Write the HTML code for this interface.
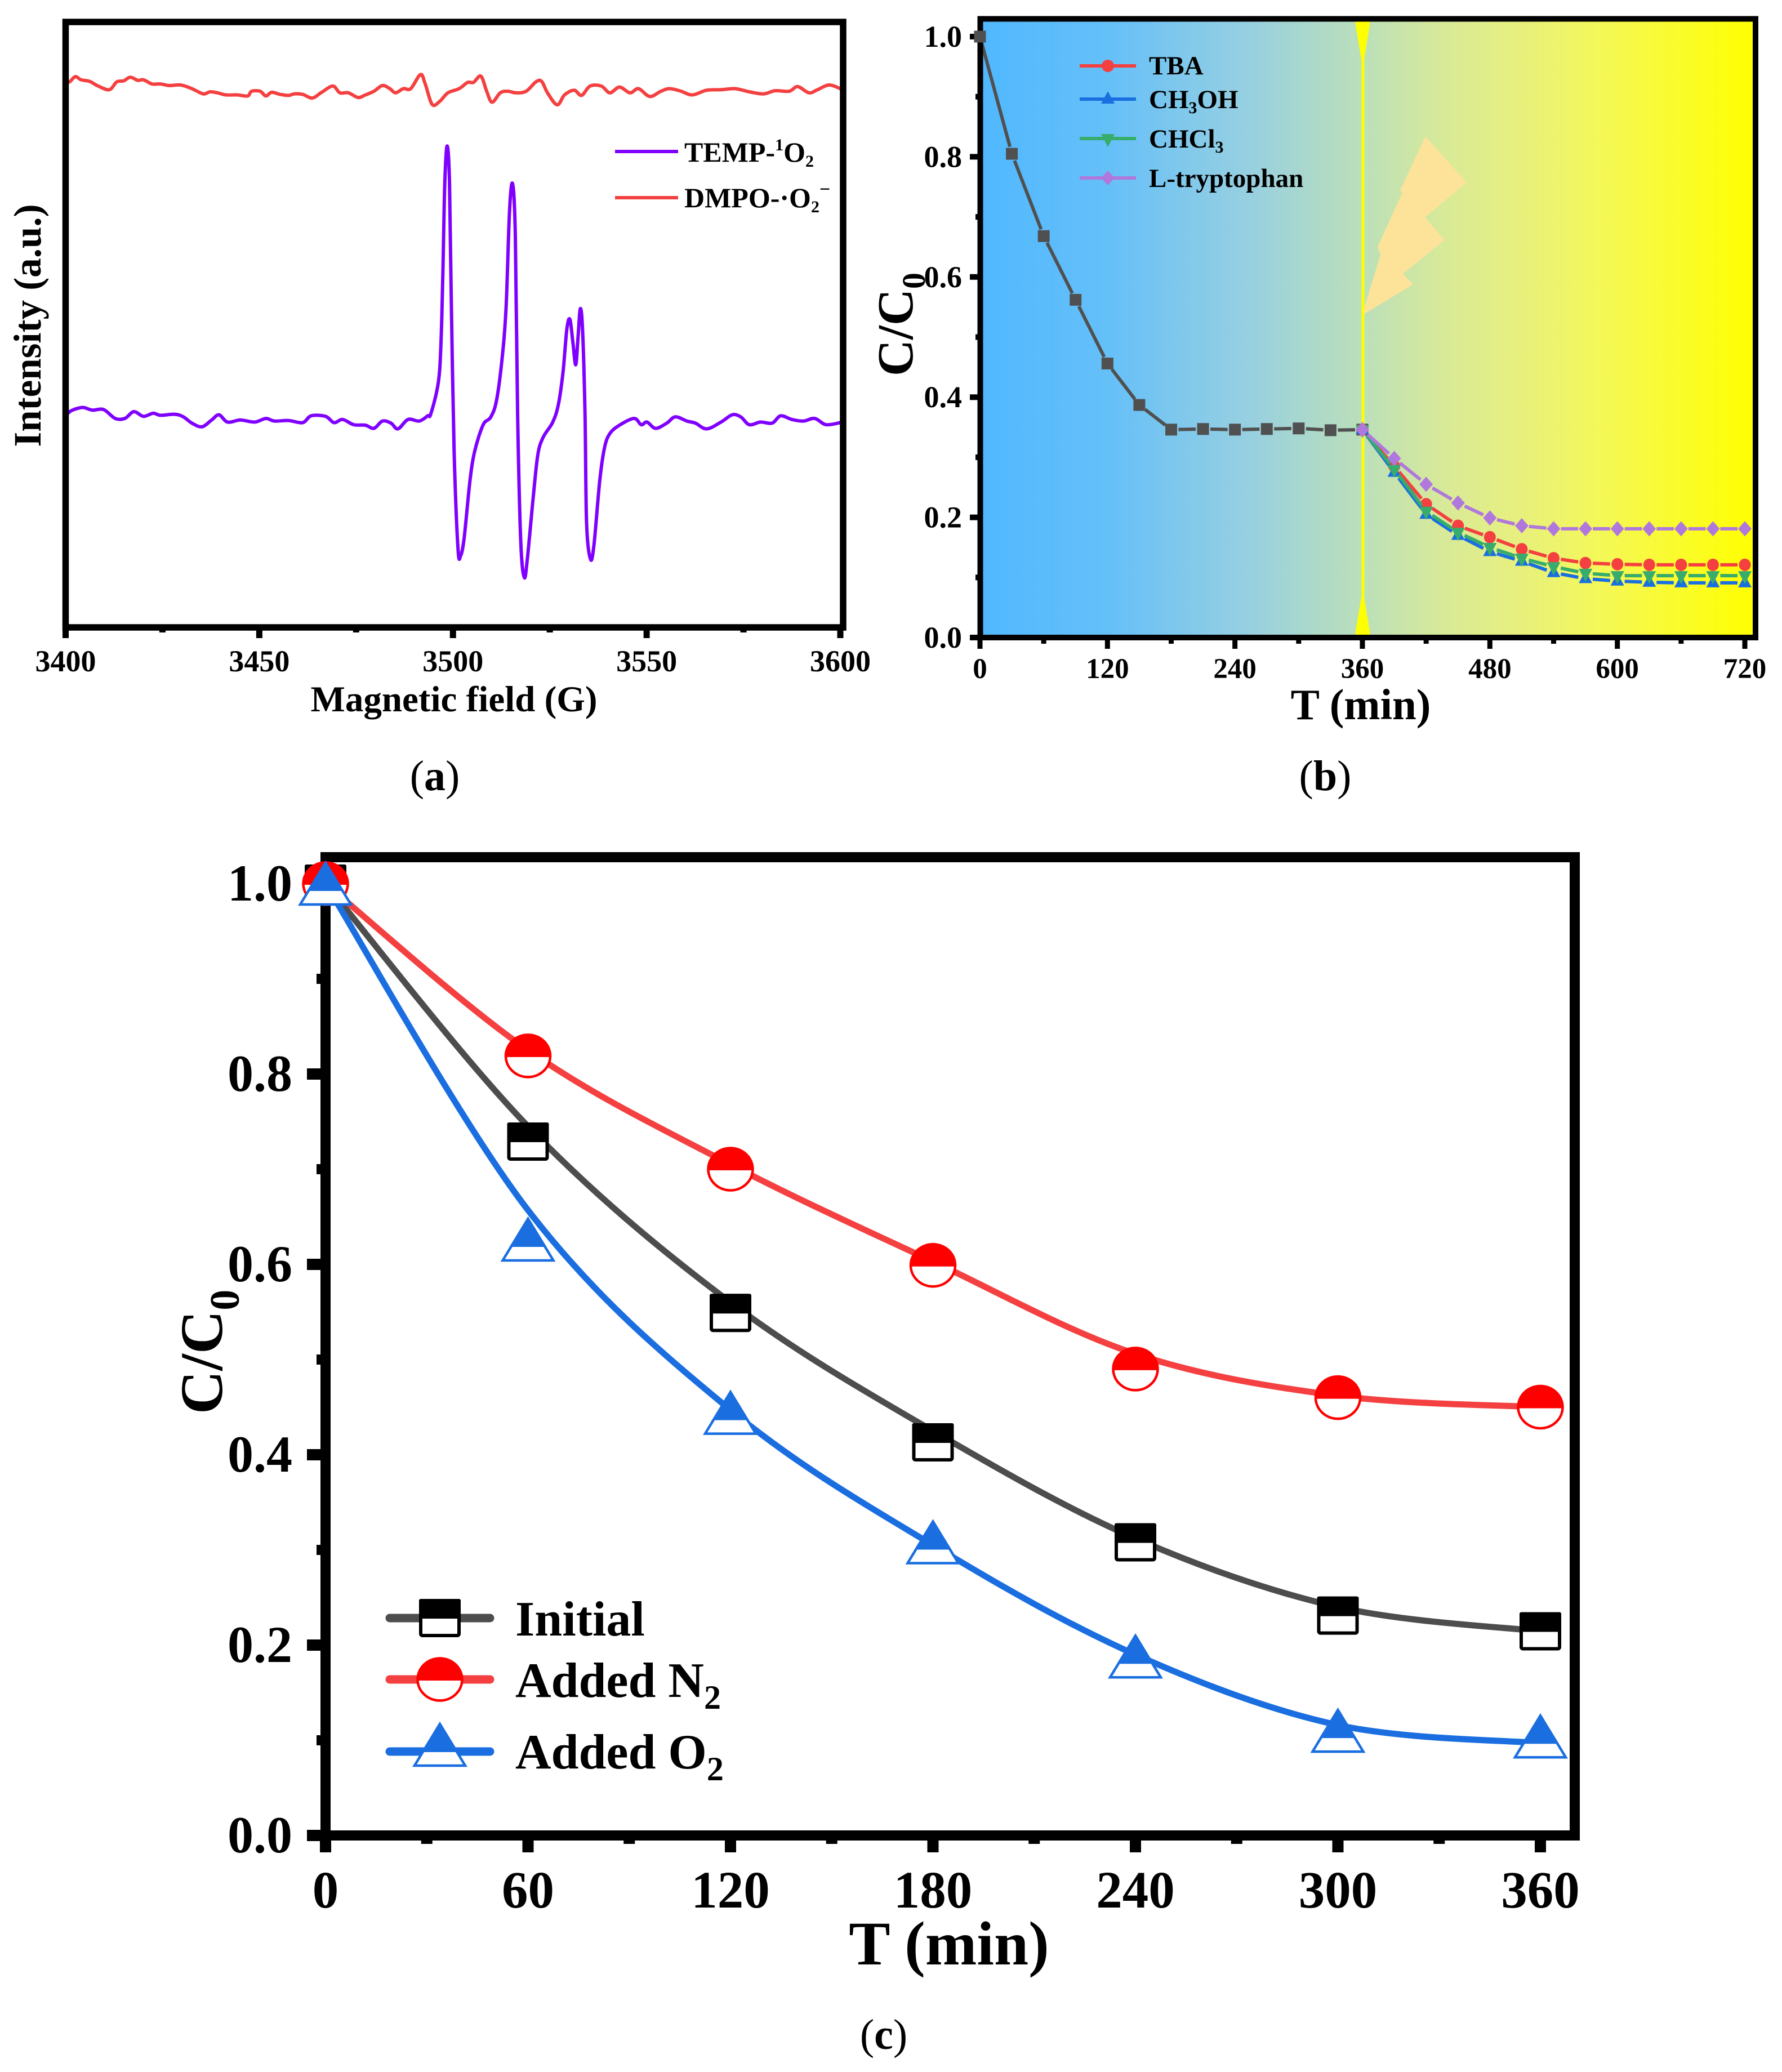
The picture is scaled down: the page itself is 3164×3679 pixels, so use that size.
<!DOCTYPE html>
<html lang="en">
<head>
<meta charset="utf-8">
<title>EPR spectra and C/C0 kinetics panels</title>
<style>
html,body{margin:0;padding:0;background:#fff;}
svg{display:block;}
text{font-family:"Liberation Serif",serif;font-weight:bold;fill:#000;}
.cap{font-weight:normal;font-size:76px;}
.cap tspan.b{font-weight:bold;}
</style>
</head>
<body>
<svg id="fig" xmlns="http://www.w3.org/2000/svg" width="3164" height="3679" viewBox="0 0 3164 3679">
<defs>
<linearGradient id="bgGrad" gradientUnits="userSpaceOnUse" x1="1740" y1="0" x2="3116" y2="0">
<stop offset="0" stop-color="#50b8ff"/>
<stop offset="0.17" stop-color="#66c0f8"/>
<stop offset="0.35" stop-color="#98d0e0"/>
<stop offset="0.5" stop-color="#bde0b8"/>
<stop offset="0.6" stop-color="#d8ea98"/>
<stop offset="0.7" stop-color="#e8f07c"/>
<stop offset="0.8" stop-color="#f4f858"/>
<stop offset="1" stop-color="#ffff00"/>
</linearGradient>
</defs>

<!-- Panel a -->
<g id="panelA">
  <g id="aMarks"></g>
  <rect x="116.5" y="39" width="1380.5" height="1075" fill="none" stroke="#000" stroke-width="11.5"/>
  <g id="aTicks"></g>
  <text x="806" y="1263" font-size="65" text-anchor="middle">Magnetic field (G)</text>
  <text transform="translate(72,578) rotate(-90)" font-size="69" text-anchor="middle">Intensity (a.u.)</text>
  <line x1="1092" y1="269" x2="1204" y2="269" stroke="#7f00ff" stroke-width="6"/>
  <line x1="1092" y1="351" x2="1204" y2="351" stroke="#f44040" stroke-width="6"/>
  <text x="1215" y="287" font-size="50">TEMP-<tspan font-size="30" dy="-20">1</tspan><tspan dy="20">O</tspan><tspan font-size="30" dy="9">2</tspan></text>
  <text x="1215" y="368" font-size="50">DMPO-·O<tspan font-size="30" dy="9">2</tspan><tspan font-size="34" dy="-30">−</tspan></text>
  <text class="cap" x="772" y="1403" text-anchor="middle">(<tspan class="b">a</tspan>)</text>
</g>

<!-- Panel b -->
<g id="panelB">
  <rect x="1740" y="33" width="1377" height="1099" fill="url(#bgGrad)"/>
  <polygon points="2406,38 2433,38 2421,111 2418,111" fill="#ffff00"/>
  <polygon points="2418,1055 2421,1055 2433,1127 2406,1127" fill="#ffff00"/>
  <polygon points="2418,560 2451,453 2446,438 2490,342 2486,338 2531,242 2604,324 2530,386 2565,426 2491,486 2509,505" fill="#fde29a"/>
  <line x1="2420" y1="38" x2="2420" y2="1127" stroke="#ffff00" stroke-width="5"/>
  <g id="bMarks"></g>
  <rect x="1740.5" y="33.5" width="1376.5" height="1098.5" fill="none" stroke="#000" stroke-width="10"/>
  <g id="bTicks"></g>
  <g id="bMarksTop"></g>
  <text x="2416" y="1277" font-size="77" text-anchor="middle">T (min)</text>
  <text transform="translate(1620,668) rotate(-90)" font-size="90">C/C<tspan font-size="58" dy="22">0</tspan></text>
  <g>
    <line x1="1917" y1="117" x2="2017" y2="117" stroke="#f44040" stroke-width="6"/>
    <circle cx="1967" cy="117" r="11" fill="#f44040"/>
    <line x1="1917" y1="176" x2="2017" y2="176" stroke="#1a6fe0" stroke-width="6"/>
    <polygon points="1967,162 1979,184 1955,184" fill="#1a6fe0"/>
    <line x1="1917" y1="246" x2="2017" y2="246" stroke="#38ac6c" stroke-width="6"/>
    <polygon points="1955,238 1979,238 1967,261" fill="#38ac6c"/>
    <line x1="1917" y1="316" x2="2017" y2="316" stroke="#b078dc" stroke-width="6"/>
    <polygon points="1967,303 1979,316 1967,329 1955,316" fill="#b078dc"/>
    <text x="2040" y="132" font-size="47">TBA</text>
    <text x="2040" y="192" font-size="47">CH<tspan font-size="30" dy="9">3</tspan><tspan dy="-9">OH</tspan></text>
    <text x="2040" y="262" font-size="47">CHCl<tspan font-size="30" dy="9">3</tspan></text>
    <text x="2040" y="332" font-size="47">L-tryptophan</text>
  </g>
  <text class="cap" x="2353" y="1403" text-anchor="middle">(<tspan class="b">b</tspan>)</text>
</g>

<!-- Panel c -->
<g id="panelC">
  <rect x="578" y="1522" width="2218" height="1737" fill="none" stroke="#000" stroke-width="18"/>
  <g id="cTicks"></g>
  <g id="cMarks"></g>
  <text x="1685" y="3488" font-size="110" text-anchor="middle">T (min)</text>
  <text transform="translate(394,2511) rotate(-90)" font-size="107">C/C<tspan font-size="74" dy="30">0</tspan></text>
  <g id="cLegend">
    <line x1="692" y1="2873" x2="870" y2="2873" stroke="#4d4d4d" stroke-width="15" stroke-linecap="round"/>
    <line x1="692" y1="2982" x2="870" y2="2982" stroke="#f44040" stroke-width="15" stroke-linecap="round"/>
    <line x1="692" y1="3110" x2="870" y2="3110" stroke="#1a6ee0" stroke-width="15" stroke-linecap="round"/>
    <text x="915" y="2904" font-size="88">Initial</text>
    <text x="915" y="3013" font-size="88">Added N<tspan font-size="60" dy="21">2</tspan></text>
    <text x="915" y="3140" font-size="88">Added O<tspan font-size="60" dy="21">2</tspan></text>
  </g>
  <text class="cap" x="1569" y="3638" text-anchor="middle">(<tspan class="b">c</tspan>)</text>
</g>
</svg>

<script>
// ---------- Panel a data: field in G, intensity in arbitrary units ----------
const aTickValues = [3400, 3450, 3500, 3550, 3600];
const aMinorTickValues = [3425, 3475, 3525, 3575];
const dmpoField = [3400,3401,3402.5,3404,3406.2,3408.4,3411.3,3413.2,3415,3416.7,3418.6,3420.1,3422.3,3424.5,3426.7,3429.7,3432.6,3435.5,3437.3,3439.2,3441.4,3444.3,3447,3448,3450.2,3451.7,3453.2,3455.4,3457.6,3459,3461.2,3463.7,3466.1,3469,3470.8,3473,3475.5,3477.4,3479.6,3481.8,3483.7,3485.2,3487.2,3489.1,3491.6,3492.8,3494.6,3496.5,3498.7,3501.6,3503.8,3505.3,3507.2,3508.7,3510.1,3512.2,3514.1,3516.3,3518.9,3521.4,3522.9,3524.4,3526.9,3528.8,3531.3,3533.2,3535.4,3538.3,3540.5,3543,3545.7,3547.9,3550.8,3553.7,3555.9,3558.9,3561.8,3565.5,3569.2,3572.8,3576.5,3580.2,3583.1,3586.8,3589,3591.9,3594.1,3597.1,3600];
const dmpoIntensity = [1048,1046,1056,1050,1047,1038,1031,1046,1048,1055,1049,1050,1042,1042,1039,1040,1033,1023,1027,1025,1021,1021,1019,1028,1028,1019,1026,1022,1020,1023,1022,1015,1026,1038,1025,1025,1016,1021,1028,1039,1033,1025,1033,1033,1060,1043,1003,1008,1025,1033,1045,1045,1057,1028,1007,1025,1028,1025,1028,1046,1047,1025,1002,1021,1030,1020,1038,1038,1025,1036,1025,1033,1018,1028,1033,1028,1021,1030,1031,1033,1027,1023,1029,1028,1037,1025,1031,1040,1033];
const tempField = [3400,3401.5,3404.4,3406.9,3409.8,3412.8,3415.3,3417.6,3420.1,3422.6,3424.5,3428.2,3430.4,3432.6,3435.2,3437.7,3439.6,3441.8,3445.1,3448.8,3451.7,3453.9,3457.6,3461.2,3463.4,3467.1,3469.3,3471.5,3474.4,3477.4,3479.6,3481.8,3484,3485.8,3488.4,3491.3,3493.5,3494.3,3496.2,3496.9,3497.4,3497.9,3498.5,3499.1,3499.6,3500.3,3501.3,3502,3502.9,3504.4,3505.6,3507.8,3509.7,3511.2,3512.6,3513.7,3514.6,3515.4,3516.1,3516.7,3517.5,3518.4,3519.2,3520.7,3521.9,3523.3,3525.7,3527.2,3528.4,3529.4,3530.2,3531,3531.7,3532.3,3532.9,3533.5,3534.1,3534.5,3535.5,3536.4,3537.9,3539.1,3540.5,3543.2,3546.8,3548.6,3550.1,3552.3,3555.2,3557.4,3560.4,3562.6,3565.5,3569.2,3572.1,3574.3,3576.5,3579.4,3582.4,3584.6,3587.5,3590.5,3593.4,3596.3,3600];
const tempIntensity = [405,415,421,416,417,400,400,413,404,410,406,408,403,391,384,397,407,393,397,393,400,395,396,392,405,404,392,398,388,387,381,395,391,380,398,395,405,409,468,543,681,854,923,854,612,337,150,137,171,281,337,388,402,433,509,612,798,850,750,405,164,95,130,247,330,364,392,426,488,571,590,543,503,557,611,564,405,199,130,157,281,343,371,388,400,388,393,381,391,403,395,391,380,393,407,403,388,393,391,405,398,395,400,388,392];

// ---------- Panel b data ----------
const bXTickValues = [0,120,240,360,480,600,720];
const bXMinorTickValues = [60,180,300,420,540,660];
const bYTickLabels = ['0.0','0.2','0.4','0.6','0.8','1.0'];
const bYMinorTickValues = [0.1,0.3,0.5,0.7,0.9];
const darkTimes = [0,30,60,90,120,150,180,210,240,270,300,330,360];
const darkValues = [1.0,0.805,0.668,0.562,0.456,0.387,0.346,0.347,0.346,0.347,0.348,0.345,0.346];
const lightTimes = [360,390,420,450,480,510,540,570,600,630,660,690,720];
const tbaValues = [0.346,0.285,0.222,0.186,0.167,0.147,0.132,0.124,0.122,0.121,0.121,0.121,0.121];
const methanolValues = [0.346,0.275,0.205,0.170,0.143,0.127,0.108,0.098,0.094,0.092,0.091,0.091,0.091];
const chloroformValues = [0.346,0.280,0.210,0.175,0.150,0.132,0.118,0.107,0.103,0.103,0.103,0.103,0.103];
const tryptophanValues = [0.346,0.298,0.255,0.224,0.199,0.186,0.181,0.181,0.181,0.181,0.181,0.181,0.181];

// ---------- Panel c data ----------
const cTimes = [0,60,120,180,240,300,360];
const cXMinorTickValues = [30,90,150,210,270,330];
const cYTickLabels = ['0.0','0.2','0.4','0.6','0.8','1.0'];
const cYMinorTickValues = [0.1,0.3,0.5,0.7,0.9];
const initialPoints = [1.0,0.729,0.549,0.413,0.308,0.231,0.2145];
const n2Points = [1.0,0.819,0.70,0.599,0.49,0.46,0.45];
const o2Points = [1.0,0.626,0.444,0.308,0.188,0.11,0.104];
const initialCurve = [1.0,0.745,0.56,0.425,0.312,0.24,0.2145];
const n2Curve = [1.0,0.825,0.705,0.603,0.506,0.462,0.45];
const o2Curve = [1.0,0.657,0.447,0.305,0.19,0.116,0.097];

const NS = 'http://www.w3.org/2000/svg';
function mk(tag, attrs, parent){
  const n = document.createElementNS(NS, tag);
  for (const k in attrs) n.setAttribute(k, attrs[k]);
  parent.appendChild(n);
  return n;
}
function smoothPath(pts){
  let d = 'M' + pts[0][0].toFixed(1) + ' ' + pts[0][1].toFixed(1);
  for (let i = 0; i < pts.length - 1; i++){
    const p0 = pts[Math.max(0,i-1)], p1 = pts[i], p2 = pts[i+1], p3 = pts[Math.min(pts.length-1,i+2)];
    const c1x = p1[0] + (p2[0]-p0[0])/6, c1y = p1[1] + (p2[1]-p0[1])/6;
    const c2x = p2[0] - (p3[0]-p1[0])/6, c2y = p2[1] - (p3[1]-p1[1])/6;
    d += 'C' + [c1x,c1y,c2x,c2y,p2[0],p2[1]].map(v=>v.toFixed(1)).join(' ');
  }
  return d;
}

// ---------- Panel a axis functions ----------
function ax(g){ return 116.5 + (g - 3400) * (1492 - 116.5) / 200; }
function ay(v){ return 1113 - v * 1074 / 1161; }
const aMarks = document.getElementById('aMarks');
const aTicks = document.getElementById('aTicks');
const tempPts = tempField.map((g,i)=>[ax(g), ay(tempIntensity[i])]);
const dmpoPts = dmpoField.map((g,i)=>[ax(g), ay(dmpoIntensity[i])]);
const dmpoLine = mk('path',{d:smoothPath(dmpoPts),fill:'none',stroke:'#f44040','stroke-width':6,'stroke-linejoin':'round'},aMarks);


const tempLine = mk('path',{d:smoothPath(tempPts),fill:'none',stroke:'#7f00ff','stroke-width':6,'stroke-linejoin':'round'},aMarks);


aTickValues.forEach(v=>{
  const t = mk('line',{x1:ax(v),x2:ax(v),y1:1114,y2:1133,stroke:'#000','stroke-width':11},aTicks);
  
  
  const l = mk('text',{x:ax(v),y:1192,'font-size':54,'text-anchor':'middle'},aTicks);
  l.textContent = v;
  
  
});
aMinorTickValues.forEach(v=>{
  const t = mk('line',{x1:ax(v),x2:ax(v),y1:1114,y2:1123,stroke:'#000','stroke-width':11},aTicks);
  
  
});

// ---------- Panel b axis functions ----------
function bx(t){ return 1740 + t * (3098 - 1740) / 720; }
function by(v){ return 1132 - v * 1067; }
const bMarks = document.getElementById('bMarks');
const bTicks = document.getElementById('bTicks');
const bMarksTop = document.getElementById('bMarksTop');
bXTickValues.forEach(v=>{
  const t = mk('line',{x1:bx(v),x2:bx(v),y1:1132,y2:1152,stroke:'#000','stroke-width':9},bTicks);
  
  
  const l = mk('text',{x:bx(v),y:1204,'font-size':51,'text-anchor':'middle'},bTicks);
  l.textContent = v;
  
  
});
bXMinorTickValues.forEach(v=>{
  const t = mk('line',{x1:bx(v),x2:bx(v),y1:1132,y2:1143,stroke:'#000','stroke-width':9},bTicks);
  
  
});
bYTickLabels.forEach(s=>{
  const v = parseFloat(s);
  const t = mk('line',{x1:1722,x2:1740,y1:by(v),y2:by(v),stroke:'#000','stroke-width':10},bTicks);
  
  
  const l = mk('text',{x:1708,y:by(v)+18,'font-size':54,'text-anchor':'end'},bTicks);
  l.textContent = s;
  
  
});
bYMinorTickValues.forEach(v=>{
  const t = mk('line',{x1:1732,x2:1740,y1:by(v),y2:by(v),stroke:'#000','stroke-width':10},bTicks);
  
  
});

function bLine(times, values, color, name){
  const g = mk('g',{},bMarks);
  
  
  for (let i = 0; i < times.length - 1; i++){
    const x1 = bx(times[i]), y1 = by(values[i]), x2 = bx(times[i+1]), y2 = by(values[i+1]);
    const len = Math.hypot(x2-x1, y2-y1), gap = Math.min(13, len*0.3);
    const ux = (x2-x1)/len, uy = (y2-y1)/len;
    mk('line',{x1:x1+ux*gap,y1:y1+uy*gap,x2:x2-ux*gap,y2:y2-uy*gap,stroke:color,'stroke-width':6},g);
  }
}
function bSquare(x,y,c,p){ return mk('rect',{x:x-10.5,y:y-10.5,width:21,height:21,fill:c},p); }
function bCircle(x,y,c,p){ return mk('ellipse',{cx:x,cy:y,rx:10.5,ry:11,fill:c},p); }
function bUp(x,y,c,p){ return mk('polygon',{points:[x,y-14,x+12,y+8,x-12,y+8].join(' '),fill:c},p); }
function bDown(x,y,c,p){ return mk('polygon',{points:[x-12,y-8,x+12,y-8,x,y+15].join(' '),fill:c},p); }
function bDiamond(x,y,c,p){ return mk('polygon',{points:[x,y-13.5,x+12,y,x,y+13.5,x-12,y].join(' '),fill:c},p); }
function bSeries(times, values, color, name, marker){
  bLine(times, values, color, name);
  times.forEach((t,i)=>{
    const m = marker(bx(t), by(values[i]), color, t === 0 ? bMarksTop : bMarks);
    
    
  });
}
bSeries(darkTimes, darkValues, '#505050', 'dark-adsorption', bSquare);
bSeries(lightTimes, tbaValues, '#f44040', 'tba', bCircle);
bSeries(lightTimes, methanolValues, '#1a6fe0', 'ch3oh', bUp);
bSeries(lightTimes, chloroformValues, '#38ac6c', 'chcl3', bDown);
bSeries(lightTimes, tryptophanValues, '#b078dc', 'l-tryptophan', bDiamond);

// ---------- Panel c axis functions ----------
function cx(t){ return 578 + t * (2735 - 578) / 360; }
function cy(v){ return 3259 - v * 1690; }
const cMarks = document.getElementById('cMarks');
const cTicks = document.getElementById('cTicks');
const cLegend = document.getElementById('cLegend');
cTimes.forEach(v=>{
  const t = mk('line',{x1:cx(v),x2:cx(v),y1:3259,y2:3289,stroke:'#000','stroke-width':20},cTicks);
  
  
  const l = mk('text',{x:cx(v),y:3387,'font-size':93,'text-anchor':'middle'},cTicks);
  l.textContent = v;
  
  
});
cXMinorTickValues.forEach(v=>{
  const t = mk('line',{x1:cx(v),x2:cx(v),y1:3259,y2:3274,stroke:'#000','stroke-width':20},cTicks);
  
  
});
cYTickLabels.forEach(s=>{
  const v = parseFloat(s);
  const t = mk('line',{x1:545,x2:578,y1:cy(v),y2:cy(v),stroke:'#000','stroke-width':20},cTicks);
  
  
  const l = mk('text',{x:519,y:cy(v)+30,'font-size':92,'text-anchor':'end'},cTicks);
  l.textContent = s;
  
  
});
cYMinorTickValues.forEach(v=>{
  const t = mk('line',{x1:562,x2:578,y1:cy(v),y2:cy(v),stroke:'#000','stroke-width':18},cTicks);
  
  
});

function halfSquare(x,y,p){
  const g = mk('g',{},p);
  mk('rect',{x:x-34,y:y-31,width:68,height:62,rx:3,fill:'#fff',stroke:'#000','stroke-width':6},g);
  mk('rect',{x:x-37,y:y-34,width:74,height:35,rx:3,fill:'#000'},g);
  return g;
}
function halfCircle(x,y,p){
  const g = mk('g',{},p);
  mk('ellipse',{cx:x,cy:y,rx:39.5,ry:37.5,fill:'#fff',stroke:'#ff0000','stroke-width':4.5},g);
  mk('path',{d:'M'+(x-41.5)+' '+(y+2)+'A41.5 39.5 0 0 1 '+(x+41.5)+' '+(y+2)+'Z',fill:'#ff0000'},g);
  return g;
}
function halfTriangle(x,y,p){
  const g = mk('g',{},p);
  mk('polygon',{points:[x,y-37,x+45,y+37,x-45,y+37].join(' '),fill:'#fff',stroke:'#1a6ee0','stroke-width':4.5},g);
  mk('polygon',{points:[x,y-40,x+33,y+13,x-33,y+13].join(' '),fill:'#1a6ee0'},g);
  return g;
}
function cSeries(curve, points, color, name, marker){
  const line = mk('path',{d:smoothPath(cTimes.map((t,i)=>[cx(t),cy(curve[i])])),fill:'none',stroke:color,'stroke-width':11,'stroke-linejoin':'round'},cMarks);
  
  
  return ()=>{
    cTimes.forEach((t,i)=>{
      const m = marker(cx(t), cy(points[i]), cMarks);
      
      
    });
  };
}
const drawInitial = cSeries(initialCurve, initialPoints, '#4d4d4d', 'initial', halfSquare);
const drawN2 = cSeries(n2Curve, n2Points, '#f44040', 'added-n2', halfCircle);
const drawO2 = cSeries(o2Curve, o2Points, '#1a6ee0', 'added-o2', halfTriangle);
drawInitial();
drawN2();
drawO2();
const legSquare = halfSquare(781, 2873, cLegend);


const legCircle = halfCircle(781, 2982, cLegend);


const legTriangle = halfTriangle(781, 3098, cLegend);


</script>
</body>
</html>
